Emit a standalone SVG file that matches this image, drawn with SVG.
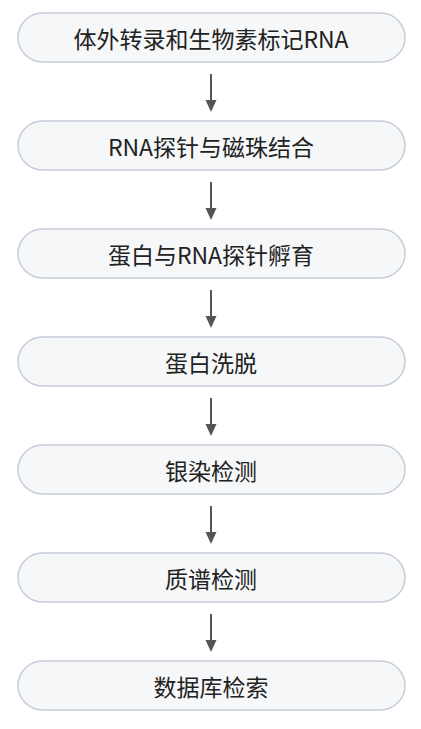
<svg xmlns="http://www.w3.org/2000/svg" width="421" height="729" viewBox="0 0 421 729">
<defs>
<style>
.box{fill:#f5f7f8;stroke:#c6cdd9;stroke-width:1.5}
.t{font-family:"Noto Sans CJK SC","Noto Sans",sans-serif;font-size:23px;fill:#222;text-anchor:middle;dominant-baseline:central}
.c{stroke:#555;stroke-width:2;fill:none}
</style>
</defs>
<rect width="421" height="729" fill="#fff"/>
<g id="connectors">
<line class="c" x1="211" y1="74" x2="211" y2="101"/>
<line class="c" x1="211" y1="182" x2="211" y2="209"/>
<line class="c" x1="211" y1="290" x2="211" y2="317"/>
<line class="c" x1="211" y1="398" x2="211" y2="425"/>
<line class="c" x1="211" y1="506" x2="211" y2="533"/>
<line class="c" x1="211" y1="614" x2="211" y2="641"/>
<g fill="#555">
<path d="M205.5,100 L216.5,100 L211,112 Z"/>
<path d="M205.5,208 L216.5,208 L211,220 Z"/>
<path d="M205.5,316 L216.5,316 L211,328 Z"/>
<path d="M205.5,424 L216.5,424 L211,436 Z"/>
<path d="M205.5,532 L216.5,532 L211,544 Z"/>
<path d="M205.5,640 L216.5,640 L211,652 Z"/>
</g>
</g>
<g id="n1"><rect class="box" x="18" y="13" width="387" height="49" rx="24.5"/><text class="t" x="211" y="37.5">体外转录和生物素标记RNA</text></g>
<g id="n2"><rect class="box" x="18" y="121" width="387" height="49" rx="24.5"/><text class="t" x="211" y="145.5">RNA探针与磁珠结合</text></g>
<g id="n3"><rect class="box" x="18" y="229" width="387" height="49" rx="24.5"/><text class="t" x="211" y="253.5">蛋白与RNA探针孵育</text></g>
<g id="n4"><rect class="box" x="18" y="337" width="387" height="49" rx="24.5"/><text class="t" x="211" y="361.5">蛋白洗脱</text></g>
<g id="n5"><rect class="box" x="18" y="445" width="387" height="49" rx="24.5"/><text class="t" x="211" y="469.5">银染检测</text></g>
<g id="n6"><rect class="box" x="18" y="553" width="387" height="49" rx="24.5"/><text class="t" x="211" y="577.5">质谱检测</text></g>
<g id="n7"><rect class="box" x="18" y="661" width="387" height="49" rx="24.5"/><text class="t" x="211" y="685.5">数据库检索</text></g>
</svg>
